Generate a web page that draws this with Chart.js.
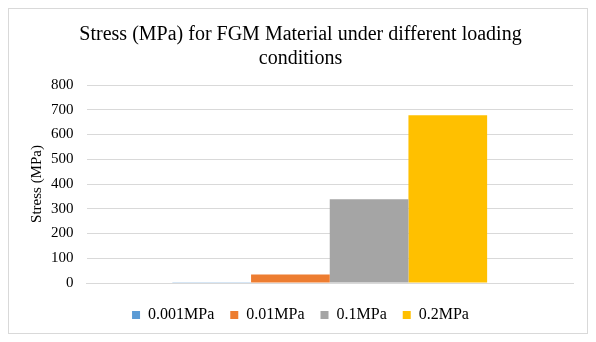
<!DOCTYPE html>
<html>
<head>
<meta charset="utf-8">
<script src="https://cdn.jsdelivr.net/npm/chart.js@4/dist/chart.umd.min.js"></script>
<style>
  body { margin: 0; background: #fff; }
  #box { position: absolute; left: 8px; top: 8px; width: 578px; height: 324px; border: 1px solid #d9d9d9; }
  canvas { display: block; }
</style>
</head>
<body>
<div id="box"><canvas id="chart" width="578" height="324"></canvas></div>
<script>
const categories = [''];
const seriesNames = ['0.001MPa', '0.01MPa', '0.1MPa', '0.2MPa'];
const seriesValues = [[3.4], [34], [338], [678]];
const seriesColors = ['#5b9bd5', '#ed7d31', '#a5a5a5', '#ffc000'];
const yTicks = [0, 100, 200, 300, 400, 500, 600, 700, 800];

const serif = "'Liberation Serif', 'Times New Roman', serif";

new Chart(document.getElementById('chart'), {
    type: 'bar',
    data: {
        labels: categories,
        datasets: seriesNames.map((name, i) => ({
            label: name,
            data: seriesValues[i],
            backgroundColor: seriesColors[i],
            barPercentage: 1,
            categoryPercentage: 0.647
        }))
    },
    options: {
        responsive: false,
        animation: false,
        layout: { padding: { left: 19, right: 14, top: 10, bottom: 0 } },
        plugins: {
            title: {
                display: true,
                text: ['Stress (MPa) for FGM Material under different loading', 'conditions'],
                font: { family: serif, size: 20, weight: 'normal' },
                color: '#000',
                padding: { top: 4, bottom: 14 },
                lineHeight: 1.2
            },
            legend: {
                position: 'bottom',
                labels: {
                    font: { family: serif, size: 16 },
                    color: '#000',
                    boxWidth: 8,
                    boxHeight: 8,
                    padding: 16
                }
            },
            tooltip: { enabled: false }
        },
        scales: {
            x: {
                grid: { display: false },
                border: { color: '#d9d9d9' },
                ticks: { display: false }
            },
            y: {
                min: 0,
                max: 800,
                afterBuildTicks: axis => { axis.ticks = yTicks.map(v => ({ value: v })); },
                grid: { color: '#d9d9d9', drawTicks: false },
                border: { display: false },
                ticks: { font: { family: serif, size: 15 }, color: '#000', padding: 13 },
                title: {
                    display: true,
                    text: 'Stress (MPa)',
                    font: { family: serif, size: 15 },
                    color: '#000',
                    padding: { top: 0, bottom: -8 }
                }
            }
        }
    }
});
</script>
</body>
</html>
